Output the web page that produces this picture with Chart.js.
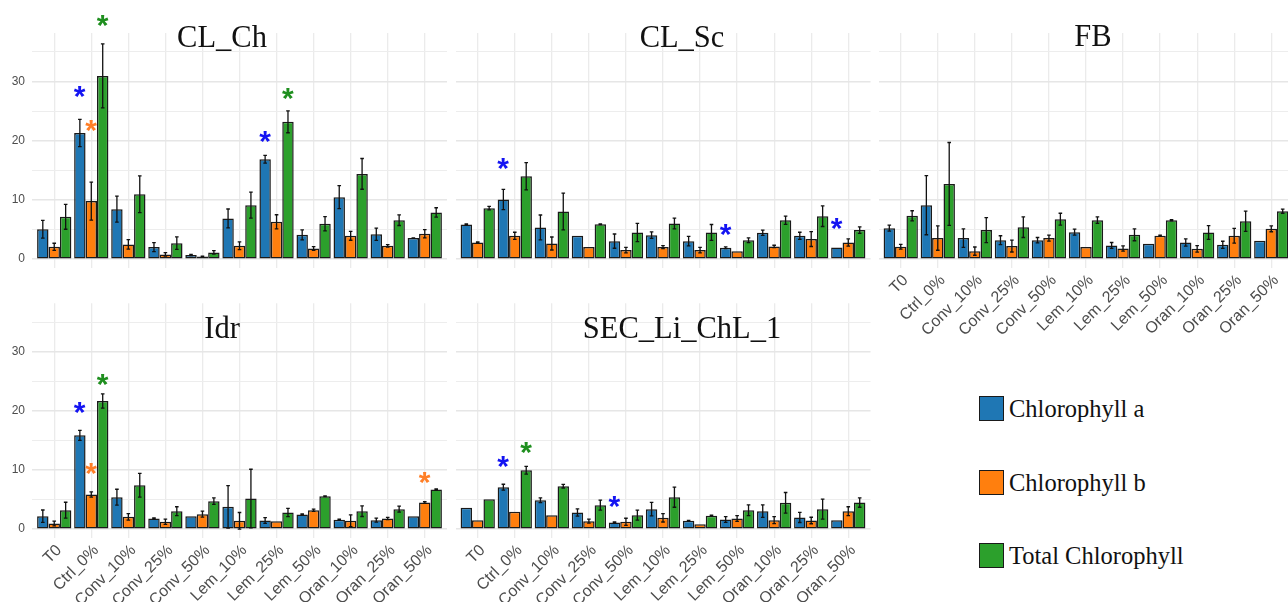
<!DOCTYPE html>
<html>
<head>
<meta charset="utf-8">
<title>Chlorophyll</title>
<script src="https://cdn.jsdelivr.net/npm/chart.js@4.4.1/dist/chart.umd.min.js"></script>
<style>
    html, body { margin: 0; padding: 0; background: #fff; width: 1288px; height: 602px; overflow: hidden; position: relative; }
    canvas { position: absolute; }
    .legend-item { position: absolute; left: 979px; display: flex; white-space: nowrap;
        font-family: "Liberation Serif", "Times New Roman", serif; font-size: 24.5px; line-height: 25px; color: #111; }
    .swatch { display: inline-block; box-sizing: border-box; width: 25px; height: 25px; border: 1.6px solid #1a1a1a; margin-right: 5px; }
</style>
</head>
<body>
<script>
// Categories and series
const categories = ['T0', 'Ctrl_0%', 'Conv_10%', 'Conv_25%', 'Conv_50%', 'Lem_10%', 'Lem_25%', 'Lem_50%', 'Oran_10%', 'Oran_25%', 'Oran_50%'];
const seriesNames = ['Chlorophyll a', 'Chlorophyll b', 'Total Chlorophyll'];
const yTickValues = [0, 5, 10, 15, 20, 25, 30, 35];

// CL_Ch
const clChA = [5.06, 21.3, 8.44, 2.03, 0.68, 6.87, 16.88, 4.1, 10.47, 4.2, 3.55];
const clChAErr = [1.5, 2.3, 2.2, 0.75, 0.1, 1.6, 0.65, 0.85, 1.95, 1.05, 0.05];
const clChB = [2.08, 9.8, 2.48, 0.79, 0.45, 2.25, 6.3, 1.8, 3.94, 2.25, 4.28];
const clChBErr = [0.6, 3.2, 0.8, 0.3, 0.05, 0.65, 1.2, 0.3, 0.75, 0.2, 0.7];
const clChT = [7.15, 30.95, 10.97, 2.7, 1.13, 9.12, 23.2, 5.97, 14.4, 6.58, 7.88];
const clChTErr = [2.1, 5.4, 3.1, 1.05, 0.3, 2.2, 1.85, 1.2, 2.6, 0.9, 0.8];
const clChStars = [[1, 0, 28.3], [1, 1, 22.5], [1, 2, 40.2], [6, 0, 20.65], [6, 2, 27.97]];

// CL_Sc
const clScA = [5.85, 10.07, 5.35, 3.94, 3.04, 4.05, 3.04, 1.91, 4.45, 3.94, 1.97];
const clScAErr = [0.1, 1.7, 2.1, 0, 1.2, 0.55, 0.8, 0.15, 0.45, 0.6, 0];
const clScB = [2.81, 3.94, 2.64, 2.03, 1.52, 2.03, 1.52, 1.35, 2.14, 3.38, 2.81];
const clScBErr = [0.1, 0.6, 1.1, 0, 0.45, 0.25, 0.45, 0, 0.2, 1.25, 0.6];
const clScT = [8.61, 14.0, 8.05, 5.9, 4.5, 6.02, 4.5, 3.2, 6.58, 7.26, 4.9];
const clScTErr = [0.3, 2.3, 3.1, 0.05, 1.55, 0.9, 1.35, 0.4, 0.7, 1.75, 0.55];
const clScStars = [[1, 0, 16.15], [7, 0, 4.9], [10, 0, 6.0]];

// FB
const fbA = [5.23, 9.12, 3.55, 3.2, 3.2, 4.56, 2.31, 2.59, 2.81, 2.42, 3.1];
const fbAErr = [0.5, 5.0, 1.55, 0.75, 0.45, 0.5, 0.5, 0, 0.6, 0.6, 0];
const fbB = [2.08, 3.55, 1.35, 2.2, 3.55, 2.03, 1.8, 3.94, 1.74, 3.94, 5.12];
const fbBErr = [0.4, 2.05, 0.7, 1.0, 0.5, 0, 0.45, 0.1, 0.55, 1.25, 0.5];
const fbT = [7.32, 12.7, 4.9, 5.4, 6.75, 6.58, 4.1, 6.58, 4.5, 6.4, 8.1];
const fbTErr = [0.85, 7.0, 2.1, 1.75, 1.0, 0.55, 1.0, 0.1, 1.15, 1.7, 0.35];
const fbStars = [];

// Idr
const idrA = [2.19, 15.87, 5.4, 1.8, 2.19, 3.77, 1.46, 2.48, 1.58, 1.52, 2.19];
const idrAErr = [1.05, 0.85, 1.35, 0.1, 0, 3.6, 0.5, 0.1, 0.1, 0.35, 0];
const idrB = [0.96, 5.85, 2.08, 1.24, 2.53, 1.41, 1.35, 3.2, 1.41, 1.8, 4.5];
const idrBErr = [0.4, 0.45, 0.55, 0.45, 0.5, 1.4, 0, 0.2, 1.0, 0.2, 0.15];
const idrT = [3.2, 21.67, 7.43, 3.04, 4.73, 5.18, 2.81, 5.57, 3.04, 3.38, 6.7];
const idrTErr = [1.35, 1.2, 2.0, 0.75, 0.55, 4.95, 0.7, 0.05, 0.9, 0.5, 0.1];
const idrStars = [[1, 0, 20.5], [1, 1, 10.24], [1, 2, 25.27], [10, 1, 8.7]];

// SEC_Li_ChL_1
const secA = [3.6, 7.09, 4.9, 2.81, 1.13, 3.38, 1.41, 1.63, 3.04, 1.97, 1.52];
const secAErr = [0, 0.5, 0.4, 0.6, 0.1, 1.15, 0.05, 0.5, 1.05, 0.85, 0];
const secB = [1.52, 2.93, 2.36, 1.35, 1.24, 1.91, 0.84, 1.8, 1.52, 1.46, 3.04];
const secBErr = [0, 0, 0, 0.35, 0.6, 0.7, 0, 0.5, 0.6, 0.55, 0.75];
const secT = [5.06, 9.96, 7.26, 4.05, 2.36, 5.4, 2.25, 3.2, 4.45, 3.38, 4.5];
const secTErr = [0, 0.65, 0.3, 0.85, 0.85, 1.7, 0.1, 0.9, 1.75, 1.7, 0.8];
const secStars = [[1, 0, 11.37], [1, 2, 13.73], [4, 0, 4.6]];

// Styles
const barColors = ['#1F77B4', '#FF7F0E', '#2CA02C'];
const starColors = ['#1414F2', '#FF7F27', '#1F8F1F'];

// Panels: canvas box, paddings, title spot (page coords)
const panels = [
    { title: 'CL_Ch', values: [clChA, clChB, clChT], errors: [clChAErr, clChBErr, clChTErr], stars: clChStars,
      left: 0, top: 0, w: 460, h: 270, padL: 0, padR: 13, padT: 33, yW: 32, xH: 2, showX: false, showY: true, titleX: 222, titleY: 47 },
    { title: 'CL_Sc', values: [clScA, clScB, clScT], errors: [clScAErr, clScBErr, clScTErr], stars: clScStars,
      left: 440, top: 0, w: 440, h: 270, padL: 15.5, padR: 9.5, padT: 33, yW: 0, xH: 2, showX: false, showY: false, titleX: 682, titleY: 47 },
    { title: 'FB', values: [fbA, fbB, fbT], errors: [fbAErr, fbBErr, fbTErr], stars: fbStars,
      left: 870, top: 0, w: 440, h: 340, padL: 8.5, padR: 16.5, padT: 33, yW: 0, xH: 72, showX: true, showY: false, titleX: 1093, titleY: 46 },
    { title: 'Idr', values: [idrA, idrB, idrT], errors: [idrAErr, idrBErr, idrTErr], stars: idrStars,
      left: 0, top: 270, w: 460, h: 332, padL: 0, padR: 13, padT: 33.3, yW: 32, xH: 64, showX: true, showY: true, titleX: 222, titleY: 338 },
    { title: 'SEC_Li_ChL_1', values: [secA, secB, secT], errors: [secAErr, secBErr, secTErr], stars: secStars,
      left: 440, top: 270, w: 440, h: 332, padL: 15.5, padR: 9.5, padT: 33.3, yW: 0, xH: 64, showX: true, showY: false, titleX: 682, titleY: 338 }
];

// Error bars, asterisks and panel title
function makeOverlay(p) {
    return {
        id: 'overlay',
        afterDraw(chart) {
            const ctx = chart.ctx;
            const y = chart.scales.y;
            ctx.save();

            // error bars
            ctx.strokeStyle = '#111';
            ctx.lineWidth = 1.3;
            p.errors.forEach((errs, d) => {
                const meta = chart.getDatasetMeta(d);
                meta.data.forEach((bar, i) => {
                    const e = errs[i];
                    if (!e) return;
                    const v = p.values[d][i];
                    const yTop = y.getPixelForValue(v + e);
                    const yBot = y.getPixelForValue(v - e);
                    ctx.beginPath();
                    ctx.moveTo(bar.x, yTop); ctx.lineTo(bar.x, yBot);
                    ctx.moveTo(bar.x - 1.8, yTop); ctx.lineTo(bar.x + 1.8, yTop);
                    ctx.moveTo(bar.x - 1.8, yBot); ctx.lineTo(bar.x + 1.8, yBot);
                    ctx.stroke();
                });
            });

            // asterisks
            ctx.font = 'bold 30px "Liberation Sans", Arial, sans-serif';
            ctx.textAlign = 'left';
            ctx.textBaseline = 'alphabetic';
            const m = ctx.measureText('*');
            const dx = (m.actualBoundingBoxLeft - m.actualBoundingBoxRight) / 2;
            const dy = (m.actualBoundingBoxAscent - m.actualBoundingBoxDescent) / 2;
            p.stars.forEach(([i, d, v]) => {
                const bar = chart.getDatasetMeta(d).data[i];
                ctx.fillStyle = starColors[d];
                ctx.fillText('*', bar.x + dx, y.getPixelForValue(v) + dy);
            });

            // panel title
            ctx.font = '30.5px "Liberation Serif", "Times New Roman", serif';
            ctx.fillStyle = '#111';
            ctx.textAlign = 'center';
            ctx.fillText(p.title, p.titleX - p.left, p.titleY - p.top);
            ctx.restore();
        }
    };
}

function buildPanel(p) {
    const canvas = document.createElement('canvas');
    canvas.width = p.w;
    canvas.height = p.h;
    canvas.style.left = p.left + 'px';
    canvas.style.top = p.top + 'px';
    canvas.style.width = p.w + 'px';
    canvas.style.height = p.h + 'px';
    document.body.appendChild(canvas);

    new Chart(canvas.getContext('2d'), {
        type: 'bar',
        data: {
            datasets: seriesNames.map((name, d) => ({
                label: name,
                data: p.values[d].map((v, i) => ({ x: i + 1, y: v })),
                backgroundColor: barColors[d],
                borderColor: '#1a1a1a',
                borderWidth: 1.5,
                borderSkipped: false
            }))
        },
        options: {
            responsive: false,
            animation: false,
            devicePixelRatio: 1,
            categoryPercentage: 0.925,
            barPercentage: 1,
            layout: { padding: { left: p.padL, right: p.padR, top: p.padT, bottom: 0 } },
            plugins: {
                legend: { display: false },
                tooltip: { enabled: false },
                title: { display: false }
            },
            scales: {
                x: {
                    type: 'linear',
                    offset: false,
                    min: 0.4,
                    max: 11.6,
                    afterBuildTicks: s => { s.ticks = categories.map((c, i) => ({ value: i + 1 })); },
                    afterFit: s => {
                        s.height = p.xH;
                        s.paddingLeft = 0; s.paddingRight = 0; s.paddingTop = 0; s.paddingBottom = 0;
                    },
                    grid: { color: '#EBEBEB', lineWidth: 1.3, drawTicks: false, offset: false },
                    border: { display: false },
                    ticks: {
                        display: p.showX,
                        autoSkip: false,
                        minRotation: 45,
                        maxRotation: 45,
                        padding: 3,
                        labelOffset: 5,
                        color: '#4D4D4D',
                        font: { family: 'Liberation Sans', size: 16 },
                        callback: v => categories[v - 1]
                    }
                },
                y: {
                    min: -1.5,
                    max: 38.2,
                    afterBuildTicks: s => { s.ticks = yTickValues.map(v => ({ value: v })); },
                    afterFit: s => {
                        s.width = p.yW;
                        s.paddingLeft = 0; s.paddingRight = 0; s.paddingTop = 0; s.paddingBottom = 0;
                    },
                    grid: {
                        drawTicks: false,
                        color: c => (c.tick && c.tick.value % 10 === 0) ? '#E6E6E6' : '#EDEDED',
                        lineWidth: c => (c.tick && c.tick.value % 10 === 0) ? 1.4 : 1
                    },
                    border: { display: false },
                    ticks: {
                        display: p.showY,
                        padding: 7,
                        color: '#4D4D4D',
                        font: { family: 'Liberation Sans', size: 12 },
                        callback: v => (v % 10 === 0 ? v : '')
                    }
                }
            }
        },
        plugins: [makeOverlay(p)]
    });
}

panels.forEach(buildPanel);

// Legend
seriesNames.forEach((name, d) => {
    const item = document.createElement('div');
    item.className = 'legend-item';
    item.style.top = (396 + d * 73.5) + 'px';
    item.innerHTML = `<span class="swatch" style="background:${barColors[d]}"></span><span>${name}</span>`;
    document.body.appendChild(item);
});
</script>
</body>
</html>
